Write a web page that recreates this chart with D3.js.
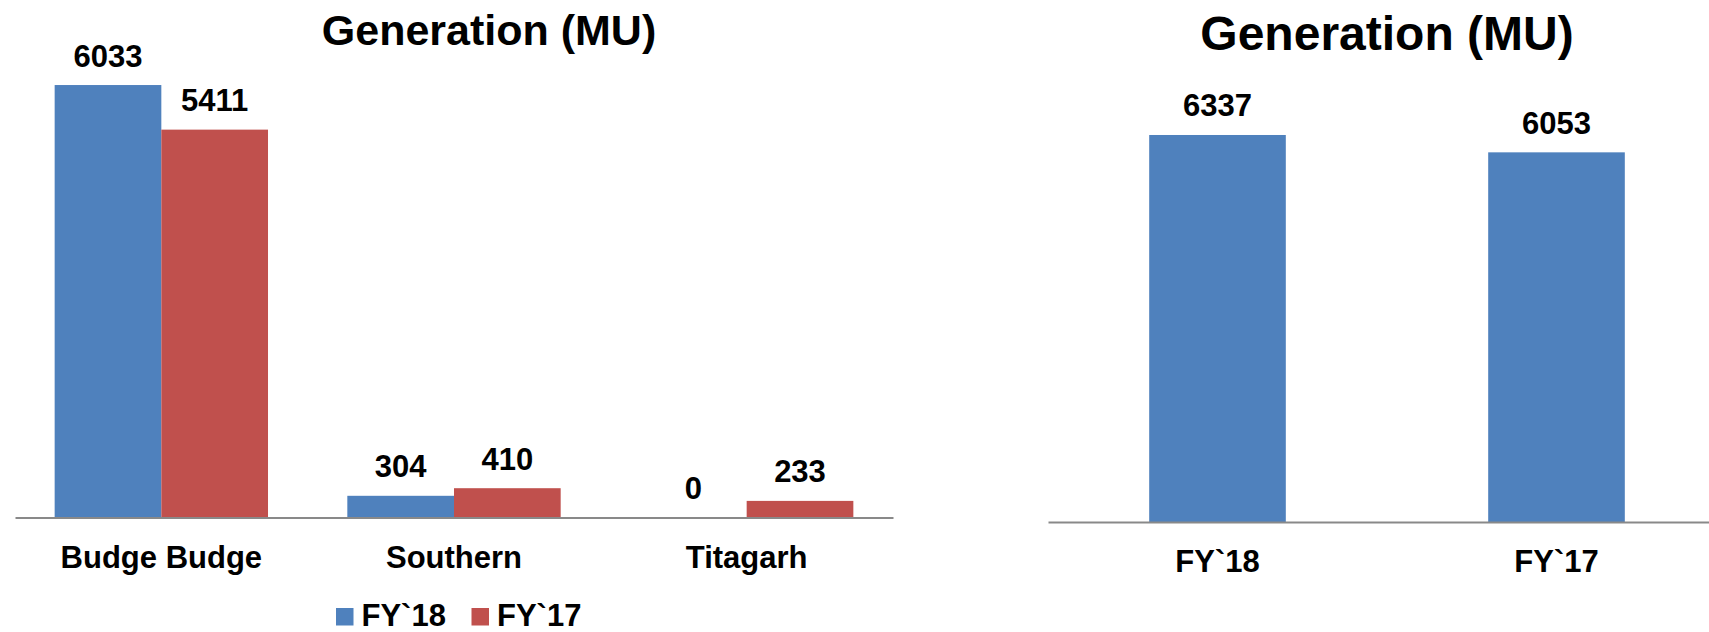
<!DOCTYPE html>
<html>
<head>
<meta charset="utf-8">
<script src="https://cdn.jsdelivr.net/npm/d3@7"></script>
<style>
  html, body { margin: 0; padding: 0; background: #fff; }
  svg { display: block; font-family: "Liberation Sans", Arial, sans-serif; font-weight: bold; }
</style>
</head>
<body>
<svg id="chart" width="1709" height="632"></svg>
<script>
// data
const plants = ["Budge Budge", "Southern", "Titagarh"];
const seriesNames = ["FY`18", "FY`17"];
const fy18 = [6033, 304, 0];
const fy17 = [5411, 410, 233];

const totalYears = ["FY`18", "FY`17"];
const totals = [6337, 6053];

const blue = "#4f81bd";
const red = "#c0504d";
const axisGrey = "#898989";

const svg = d3.select("#chart");
const color = d3.scaleOrdinal().domain(seriesNames).range([blue, red]);

// ---------- left chart: per plant ----------
const left = svg.append("g");

const x0 = d3.scaleBand()
    .domain(plants)
    .range([15, 893])
    .paddingInner(0.271)
    .paddingOuter(0.1355);

const x1 = d3.scaleBand()
    .domain(seriesNames)
    .range([0, x0.bandwidth()]);

const yL = d3.scaleLinear().domain([0, 7000]).range([517.6, 15.7]);

const rows = plants.map((p, i) => ({
    plant: p,
    values: [
        {series: seriesNames[0], value: fy18[i]},
        {series: seriesNames[1], value: fy17[i]}
    ]
}));

const groups = left.selectAll(".grp")
    .data(rows)
    .enter().append("g")
    .attr("class", "grp")
    .attr("transform", d => `translate(${x0(d.plant)},0)`);

groups.selectAll("rect")
    .data(d => d.values)
    .enter().append("rect")
    .attr("x", d => x1(d.series))
    .attr("y", d => yL(d.value))
    .attr("width", x1.bandwidth())
    .attr("height", d => yL(0) - yL(d.value))
    .attr("fill", d => color(d.series));

groups.selectAll("text")
    .data(d => d.values)
    .enter().append("text")
    .attr("x", d => x1(d.series) + x1.bandwidth() / 2)
    .attr("y", d => yL(d.value) - 18.5)
    .attr("text-anchor", "middle")
    .attr("font-size", 31)
    .text(d => d.value);

const axL = left.append("g")
    .attr("transform", `translate(0,${yL(0)})`)
    .call(d3.axisBottom(x0).tickSize(0).tickPadding(28.7));
axL.select(".domain").attr("stroke", axisGrey).attr("stroke-width", 2);
axL.selectAll("text")
    .attr("font-size", 31)
    .attr("font-family", "'Liberation Sans', Arial, sans-serif")
    .attr("font-weight", "bold")
    .attr("fill", "#000");

left.append("text")
    .attr("x", 489)
    .attr("y", 45)
    .attr("text-anchor", "middle")
    .attr("font-size", 43)
    .text("Generation (MU)");

// legend
const legend = left.selectAll(".leg")
    .data(seriesNames)
    .enter().append("g")
    .attr("class", "leg")
    .attr("transform", (d, i) => `translate(${336 + i * 135.5},0)`);

legend.append("rect")
    .attr("x", 0)
    .attr("y", 608)
    .attr("width", 17.5)
    .attr("height", 17.5)
    .attr("fill", d => color(d));

legend.append("text")
    .attr("x", 25.5)
    .attr("y", 626)
    .attr("font-size", 31)
    .text(d => d);

// ---------- right chart: totals ----------
const right = svg.append("g");

const xR = d3.scaleBand()
    .domain(totalYears)
    .range([1048, 1726])
    .paddingInner(0.597)
    .paddingOuter(0.2985);

const yR = d3.scaleLinear().domain([0, 7000]).range([522, 94.5]);

const tot = totalYears.map((y, i) => ({year: y, value: totals[i]}));

right.selectAll("rect")
    .data(tot)
    .enter().append("rect")
    .attr("x", d => xR(d.year))
    .attr("y", d => yR(d.value))
    .attr("width", xR.bandwidth())
    .attr("height", d => yR(0) - yR(d.value))
    .attr("fill", blue);

right.selectAll(".val")
    .data(tot)
    .enter().append("text")
    .attr("class", "val")
    .attr("x", d => xR(d.year) + xR.bandwidth() / 2)
    .attr("y", d => yR(d.value) - 18.5)
    .attr("text-anchor", "middle")
    .attr("font-size", 31)
    .text(d => d.value);

const axR = right.append("g")
    .attr("transform", `translate(0,${yR(0)})`)
    .call(d3.axisBottom(xR).tickSize(0).tickPadding(27.7));
axR.select(".domain").attr("stroke", axisGrey).attr("stroke-width", 2);
axR.selectAll("text")
    .attr("font-size", 31)
    .attr("font-family", "'Liberation Sans', Arial, sans-serif")
    .attr("font-weight", "bold")
    .attr("fill", "#000");

right.append("text")
    .attr("x", 1387)
    .attr("y", 50)
    .attr("text-anchor", "middle")
    .attr("font-size", 48)
    .text("Generation (MU)");
</script>
</body>
</html>
